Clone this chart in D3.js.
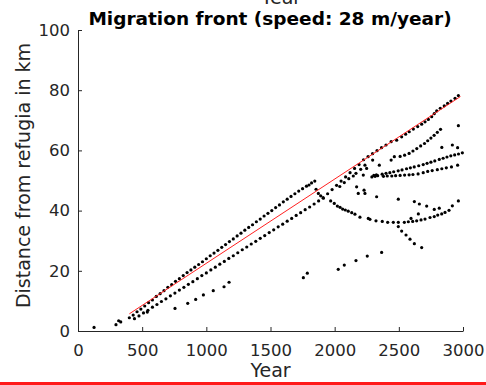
<!DOCTYPE html>
<html>
<head>
<meta charset="utf-8">
<script src="https://cdn.jsdelivr.net/npm/d3@7"></script>
<style>
  html, body { margin: 0; padding: 0; background: #fff; }
  svg { display: block; }
  text { font-family: "DejaVu Sans", sans-serif; }
</style>
</head>
<body>
<script>
// Axis ticks
const xTicks = [0, 500, 1000, 1500, 2000, 2500, 3000];
const yTicks = [0, 20, 40, 60, 80, 100];

// Fitted front: 28 m/year
const frontYears = [400, 2980];
const frontKm = [5.7, 77.9];

// Observed front positions [year, km], grouped by band
const earlyPoints = [[125,1.2],[296,2.1],[317,3.4],[333,3.0],[540,6.3]];

const upperFront = [
  [400,4.4],[430,5.3],[460,6.4],[490,7.3],[520,8.3],[550,9.4],[580,10.3],[610,11.5],
  [640,12.4],[670,13.4],[700,14.5],[730,15.4],[760,16.5],[790,17.4],[820,18.4],[850,19.4],
  [880,20.3],[910,21.2],[940,22.1],[970,23.0],[1000,24.0],[1030,25.0],[1060,25.9],[1090,26.8],
  [1120,27.8],[1150,28.7],[1180,29.7],[1210,30.6],[1240,31.6],[1270,32.5],[1300,33.5],[1330,34.4],
  [1360,35.3],[1390,36.3],[1420,37.2],[1450,38.2],[1480,39.1],[1510,40.0],[1540,41.0],[1570,41.9],
  [1600,42.9],[1630,43.8],[1660,44.7],[1690,45.6],[1720,46.5],[1750,47.3],[1780,48.1],[1800,48.5],
  [1820,49.2],[1845,49.8]
];

const lowerFront = [
  [440,4.1],[475,5.0],[510,6.0],[545,6.9],[580,7.9],[615,8.8],[650,9.8],[685,10.7],
  [720,11.7],[755,12.6],[790,13.6],[825,14.5],[860,15.5],[895,16.4],[930,17.4],[965,18.4],
  [1000,19.3],[1035,20.3],[1070,21.2],[1105,22.2],[1140,23.1],[1175,24.1],[1210,25.0],[1245,26.0],
  [1280,27.0],[1315,27.9],[1350,28.9],[1385,29.8],[1420,30.8],[1455,31.7],[1490,32.7],[1525,33.6],
  [1560,34.6],[1595,35.5],[1630,36.5],[1665,37.4],[1700,38.4],[1735,39.3],[1770,40.3],[1805,41.2],
  [1840,42.2],[1875,43.2],[1910,44.3],[1945,45.6],[1980,47.0],[2015,48.4],[2050,49.8],[2085,51.2],
  [2120,52.6],[2155,54.0],[2190,55.3]
];

const leadingEdge = [
  [2225,56.9],[2260,57.9],[2295,58.9],[2330,59.9],[2365,60.9],[2400,61.8],[2440,62.9],[2483,63.4],
  [2522,64.5],[2553,65.4],[2581,66.2],[2613,67.1],[2647,67.9],[2678,68.7],[2704,69.5],[2730,70.3],
  [2756,71.2],[2776,72.2],[2795,73.1],[2823,74.0],[2854,74.8],[2880,75.6],[2906,76.4],[2938,77.3],
  [2964,78.2]
];

const branchCluster = [
  [2040,48.0],[2075,49.3],[2110,50.6],[2145,51.5],[2166,52.4],[2203,53.7],[2223,51.8],[2236,55.1],
  [2249,54.0],[2296,56.8],[2290,51.2],[2305,51.7],[2315,51.4],[2325,51.9],[2335,51.6],[2348,55.1]
];

const fanUpper = [
  [2440,56.8],[2465,57.9],[2510,58.0],[2545,58.4],[2580,59.0],[2610,59.8],[2640,60.6],[2670,61.5],
  [2700,62.3],[2725,63.2],[2750,64.1],[2775,65.0],[2800,66.0],[2825,67.0],
  [2835,61.0],[2917,61.8],[2958,60.9],[2964,68.2]
];

const fanMiddle = [
  [2370,52.1],[2400,52.4],[2430,52.6],[2460,52.9],[2495,53.2],[2525,53.5],[2560,53.9],[2590,54.2],
  [2620,54.5],[2655,54.9],[2690,55.3],[2720,55.7],[2750,56.1],[2780,56.5],[2815,57.0],[2845,57.4],
  [2875,57.8],[2905,58.2],[2935,58.5],[2965,58.8],[2995,59.2]
];

const fanLower = [
  [2380,51.4],[2410,51.5],[2445,51.5],[2475,51.6],[2510,51.7],[2545,51.8],[2580,51.9],[2610,52.0],
  [2650,52.2],[2690,52.6],[2725,53.0],[2760,53.3],[2800,53.6],[2835,53.9],[2870,54.2],[2910,54.5],
  [2958,55.1]
];

const trailingCurve = [
  [1855,47.1],[1873,45.7],[1891,44.9],[1912,44.1],[1969,43.2],[1997,42.4],[2021,41.5],[2042,41.1],
  [2062,40.5],[2083,40.2],[2106,39.8],[2133,39.3],[2158,38.8],[2197,37.8],[2262,37.4],[2275,37.1],
  [2322,36.6],[2371,36.4],[2413,36.1],[2457,36.1],[2496,36.1],[2543,36.1],[2574,36.3],[2608,36.4],
  [2639,36.6],[2673,36.9],[2704,37.2],[2743,37.7],[2776,38.0],[2803,38.5],[2834,38.9],[2860,39.4],
  [2891,40.1],[2917,41.6],[2964,43.2]
];

const retreatBranch = [[2496,34.7],[2522,33.2],[2556,31.9],[2587,30.5],[2621,29.0],[2678,27.7]];

const scattered = [
  [2171,47.9],[2184,45.7],[2236,45.7],[2229,46.8],[2327,44.6],[2496,43.8],[2621,43.0],[2660,42.2],
  [2717,41.5],[2776,40.4],[2815,40.8],[2652,38.9],[2595,37.4]
];

const sparseLower = [
  [756,7.5],[855,9.2],[917,10.5],[977,12.0],[1054,13.4],[1138,14.7],[1177,16.2],
  [1756,17.7],[1787,19.2],[2028,20.5],[2075,21.9],[2166,23.4],[2254,24.9],[2366,26.1]
];

const W = 486, H = 385;
const svg = d3.select("body").append("svg").attr("width", W).attr("height", H);

const x = d3.scaleLinear().domain([0, 3000]).range([78, 463]);
const y = d3.scaleLinear().domain([0, 100]).range([331, 30]);

const axisColor = "#262626";

// Points
const allPoints = [].concat(earlyPoints, upperFront, lowerFront, leadingEdge, branchCluster,
  fanUpper, fanMiddle, fanLower, trailingCurve, retreatBranch, scattered, sparseLower);

svg.append("g").selectAll("circle").data(allPoints).join("circle")
  .attr("cx", d => x(d[0])).attr("cy", d => y(d[1]))
  .attr("r", 1.6).attr("fill", "#000");

// Fitted front line
svg.append("line")
  .attr("x1", x(frontYears[0])).attr("y1", y(frontKm[0]))
  .attr("x2", x(frontYears[1])).attr("y2", y(frontKm[1]))
  .attr("stroke", "#ff2020").attr("stroke-width", 1);

// Axes (ticks point inward)
const xAxis = d3.axisBottom(x).tickValues(xTicks).tickFormat(d3.format("d"))
  .tickSizeInner(-4).tickSizeOuter(0).tickPadding(8);
const yAxis = d3.axisLeft(y).tickValues(yTicks).tickFormat(d3.format("d"))
  .tickSizeInner(-4).tickSizeOuter(0).tickPadding(8);

const gx = svg.append("g").attr("transform", "translate(0,331)").call(xAxis);
const gy = svg.append("g").attr("transform", "translate(78,0)").call(yAxis);

[gx, gy].forEach(g => {
  g.select(".domain").attr("stroke", axisColor);
  g.selectAll(".tick line").attr("stroke", axisColor);
  g.selectAll(".tick text").attr("fill", axisColor)
    .style("font-family", "DejaVu Sans").style("font-size", "16.5px");
});
gx.selectAll(".tick text").attr("dy", "1.05em");

// Axis labels
svg.append("text").attr("x", 270.5).attr("y", 377).attr("text-anchor", "middle")
  .attr("fill", axisColor).style("font-size", "19px").text("Year");
svg.append("text").attr("x", 281).attr("y", 4).attr("text-anchor", "middle")
  .attr("fill", axisColor).style("font-size", "19px").text("Year");
svg.append("text").attr("transform", "translate(29.5,175.5) rotate(-90)")
  .attr("text-anchor", "middle").attr("fill", axisColor).style("font-size", "19px")
  .text("Distance from refugia in km");

// Title
svg.append("text").attr("x", 270).attr("y", 24.5).attr("text-anchor", "middle")
  .attr("fill", "#000").style("font-size", "18.5px").style("font-weight", "bold")
  .text("Migration front (speed: 28 m/year)");

// Bottom rule
svg.append("rect").attr("x", 0).attr("y", 382).attr("width", W).attr("height", 3).attr("fill", "#ff1a1a");
</script>
</body>
</html>
